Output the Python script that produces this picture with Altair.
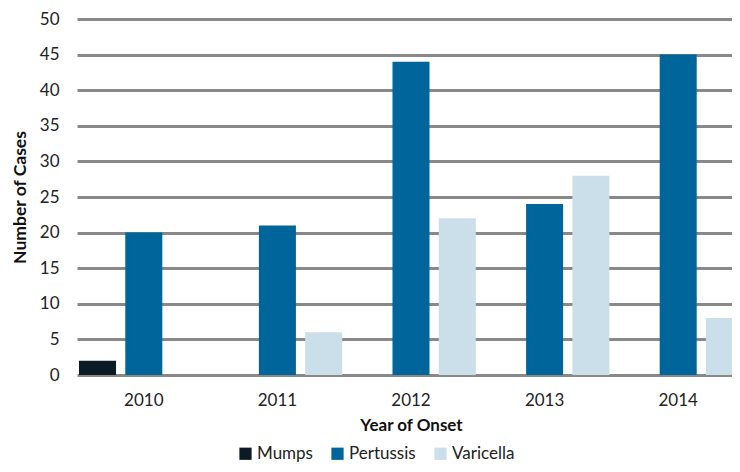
import altair as alt
import pandas as pd

years = ["2010", "2011", "2012", "2013", "2014"]
diseases = ["Mumps", "Pertussis", "Varicella"]
mumps = [2, 0, 0, 0, 0]
pertussis = [20, 21, 44, 24, 45]
varicella = [0, 6, 22, 28, 8]
colors = ["#0b1a24", "#00659a", "#cadfea"]

rows = []
for i, y in enumerate(years):
    for d, vals in zip(diseases, [mumps, pertussis, varicella]):
        rows.append({"Year": y, "Disease": d, "Cases": vals[i]})
df = pd.DataFrame(rows)

FONT = "Lato"

chart = alt.Chart(df).mark_bar(clip=False).encode(
    x=alt.X("Year:N", sort=years,
            scale=alt.Scale(paddingInner=0.03, paddingOuter=0.015, range=[0, 668]),
            axis=alt.Axis(title="Year of Onset", labelAngle=0, ticks=False, domain=False,
                          labelPadding=17, titlePadding=9, labelFontSize=17,
                          titleFontSize=17, titleFontWeight="bold", labelColor="#222",
                          titleColor="#111", labelFont=FONT, titleFont=FONT)),
    xOffset=alt.XOffset("Disease:N", sort=diseases,
                        scale=alt.Scale(paddingInner=0.2, paddingOuter=0)),
    y=alt.Y("Cases:Q", scale=alt.Scale(domain=[0, 50]),
            axis=alt.Axis(title="Number of Cases", values=list(range(0, 51, 5)),
                          ticks=False, domain=False, grid=True, gridColor="#898989",
                          gridWidth=3, labelPadding=18, titlePadding=10, labelFontSize=17,
                          titleFontSize=17.5, titleFontWeight="bold", labelColor="#222",
                          titleColor="#111", labelFont=FONT, titleFont=FONT)),
    color=alt.Color("Disease:N", sort=diseases,
                    scale=alt.Scale(domain=diseases, range=colors),
                    legend=alt.Legend(title=None, orient="none", direction="horizontal",
                                      legendX=160, legendY=426, symbolType="square",
                                      symbolSize=150, symbolStrokeWidth=0,
                                      labelFontSize=17, labelFont=FONT, labelColor="#222",
                                      columnPadding=16, labelOffset=3)),
).properties(
    width=655, height=356,
    autosize=alt.AutoSizeParams(type="none"),
    padding={"left": 69, "top": 11, "right": 0, "bottom": 89},
).configure_view(stroke=None)

chart.save("out.html", embed_options={"renderer": "svg", "actions": False})
